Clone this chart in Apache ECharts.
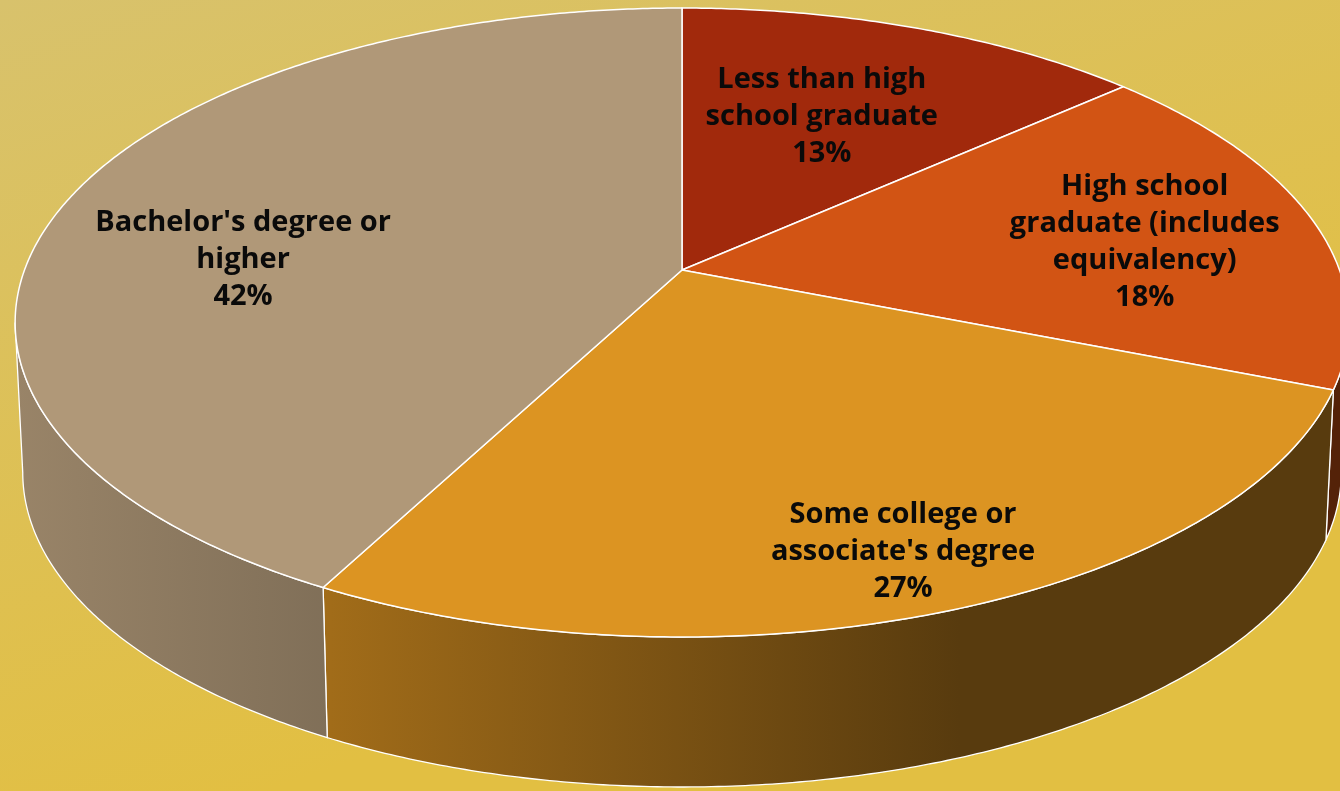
<!DOCTYPE html>
<html>
<head>
<meta charset="utf-8">
<script src="https://cdn.jsdelivr.net/npm/echarts@6/dist/echarts.min.js"></script>
<style>
html,body{margin:0;padding:0;width:1340px;height:791px;overflow:hidden;}
#chart{width:1340px;height:791px;}
</style>
</head>
<body>
<div id="chart"></div>
<script>
// ---- data ----
const categories = [
  "Less than high\nschool graduate",
  "High school\ngraduate (includes\nequivalency)",
  "Some college or\nassociate's degree",
  "Bachelor's degree or\nhigher"
];
const values = [13.4, 17.6, 26.7, 42.3];

// ---- styles ----
const topColors = ['#a1290c', '#d25414', '#dc9422', '#b09878'];
// label placement: [radius fraction, vertical nudge px]
const labelLayout = [[0.565, -8], [0.73, 10], [0.84, 4], [0.707, 40]];

// ---- 3D pie geometry (perspective-tilted disc) ----
const CX = 682, CY = 270, A = 657.5, B = 305.7, K = 0.167, DEPTH = 150, A_BOTTOM = 650;
function proj(theta, r, a) {
  const u = r * Math.sin(theta), v = r * Math.cos(theta);
  const d = 1 + K * v;
  return [CX + (a || A) * u / d, CY - B * v / d];
}
const TH_R = Math.acos(-K);            // right silhouette
const TH_L = 2 * Math.PI - TH_R;       // left silhouette

const total = values.reduce((a, b) => a + b, 0);
const starts = [];
let acc = 0;
values.forEach(v => { starts.push(acc / total * 2 * Math.PI); acc += v; });

function scale(hex, f) {
  const c = echarts.color.parse(hex);
  return 'rgb(' + Math.round(c[0] * f) + ',' + Math.round(c[1] * f) + ',' + Math.round(c[2] * f) + ')';
}

function rimPoints(a, b, r, dy, ax) {
  const pts = [];
  const n = Math.max(2, Math.ceil((b - a) / (Math.PI / 360)));
  for (let i = 0; i <= n; i++) {
    const t = a + (b - a) * i / n;
    const p = proj(t, r, ax);
    pts.push([p[0], p[1] + (dy || 0)]);
  }
  return pts;
}

function renderItem(params, api) {
  const i = params.dataIndex;
  const v = api.value(0);
  const t0 = starts[i];
  const t1 = t0 + v / total * 2 * Math.PI;
  const children = [];

  // outer wall (visible front part only)
  const wa = Math.max(t0, TH_R), wb = Math.min(t1, TH_L);
  if (wb > wa) {
    const topRim = rimPoints(wa, wb, 1, 0);
    const botRim = rimPoints(wa, wb, 1, DEPTH, A_BOTTOM).reverse();
    children.push({
      type: 'polygon',
      z2: 0,
      shape: { points: topRim.concat(botRim) },
      style: {
        fill: new echarts.graphic.LinearGradient(15, 0, 1340, 0, [
          { offset: 0, color: scale(topColors[i], 0.87) },
          { offset: 0.238, color: scale(topColors[i], 0.73) },
          { offset: 0.713, color: scale(topColors[i], 0.40) },
          { offset: 1, color: scale(topColors[i], 0.40) }
        ], true),
        stroke: '#ffffff',
        lineWidth: 1.3
      }
    });
  }

  // top face
  const pts = [proj(0, 0)].concat(rimPoints(t0, t1, 1, 0));
  children.push({
    type: 'polygon',
    z2: 10,
    shape: { points: pts },
    style: { fill: topColors[i], stroke: '#ffffff', lineWidth: 1.5, lineJoin: 'round' }
  });

  // label
  const mid = (t0 + t1) / 2;
  const lp = proj(mid, labelLayout[i][0]);
  children.push({
    type: 'text',
    z2: 20,
    x: lp[0],
    y: lp[1] + labelLayout[i][1],
    style: {
      text: categories[i] + '\n' + Math.round(v / total * 100) + '%',
      align: 'center',
      verticalAlign: 'middle',
      fontFamily: 'Open Sans',
      fontWeight: 'bold',
      fontSize: 29,
      lineHeight: 37,
      fill: '#0a0a0a'
    }
  });

  return { type: 'group', children: children };
}

const chart = echarts.init(document.getElementById('chart'));
chart.setOption({
  animation: false,
  backgroundColor: {
    type: 'linear', x: 0, y: 0, x2: 0.2, y2: 1,
    colorStops: [
      { offset: 0, color: '#d8c26c' },
      { offset: 1, color: '#e2bf42' }
    ]
  },
  series: [{
    type: 'custom',
    coordinateSystem: 'none',
    renderItem: renderItem,
    data: values.map((v, i) => ({ name: categories[i], value: [v] }))
  }]
});
</script>
</body>
</html>
